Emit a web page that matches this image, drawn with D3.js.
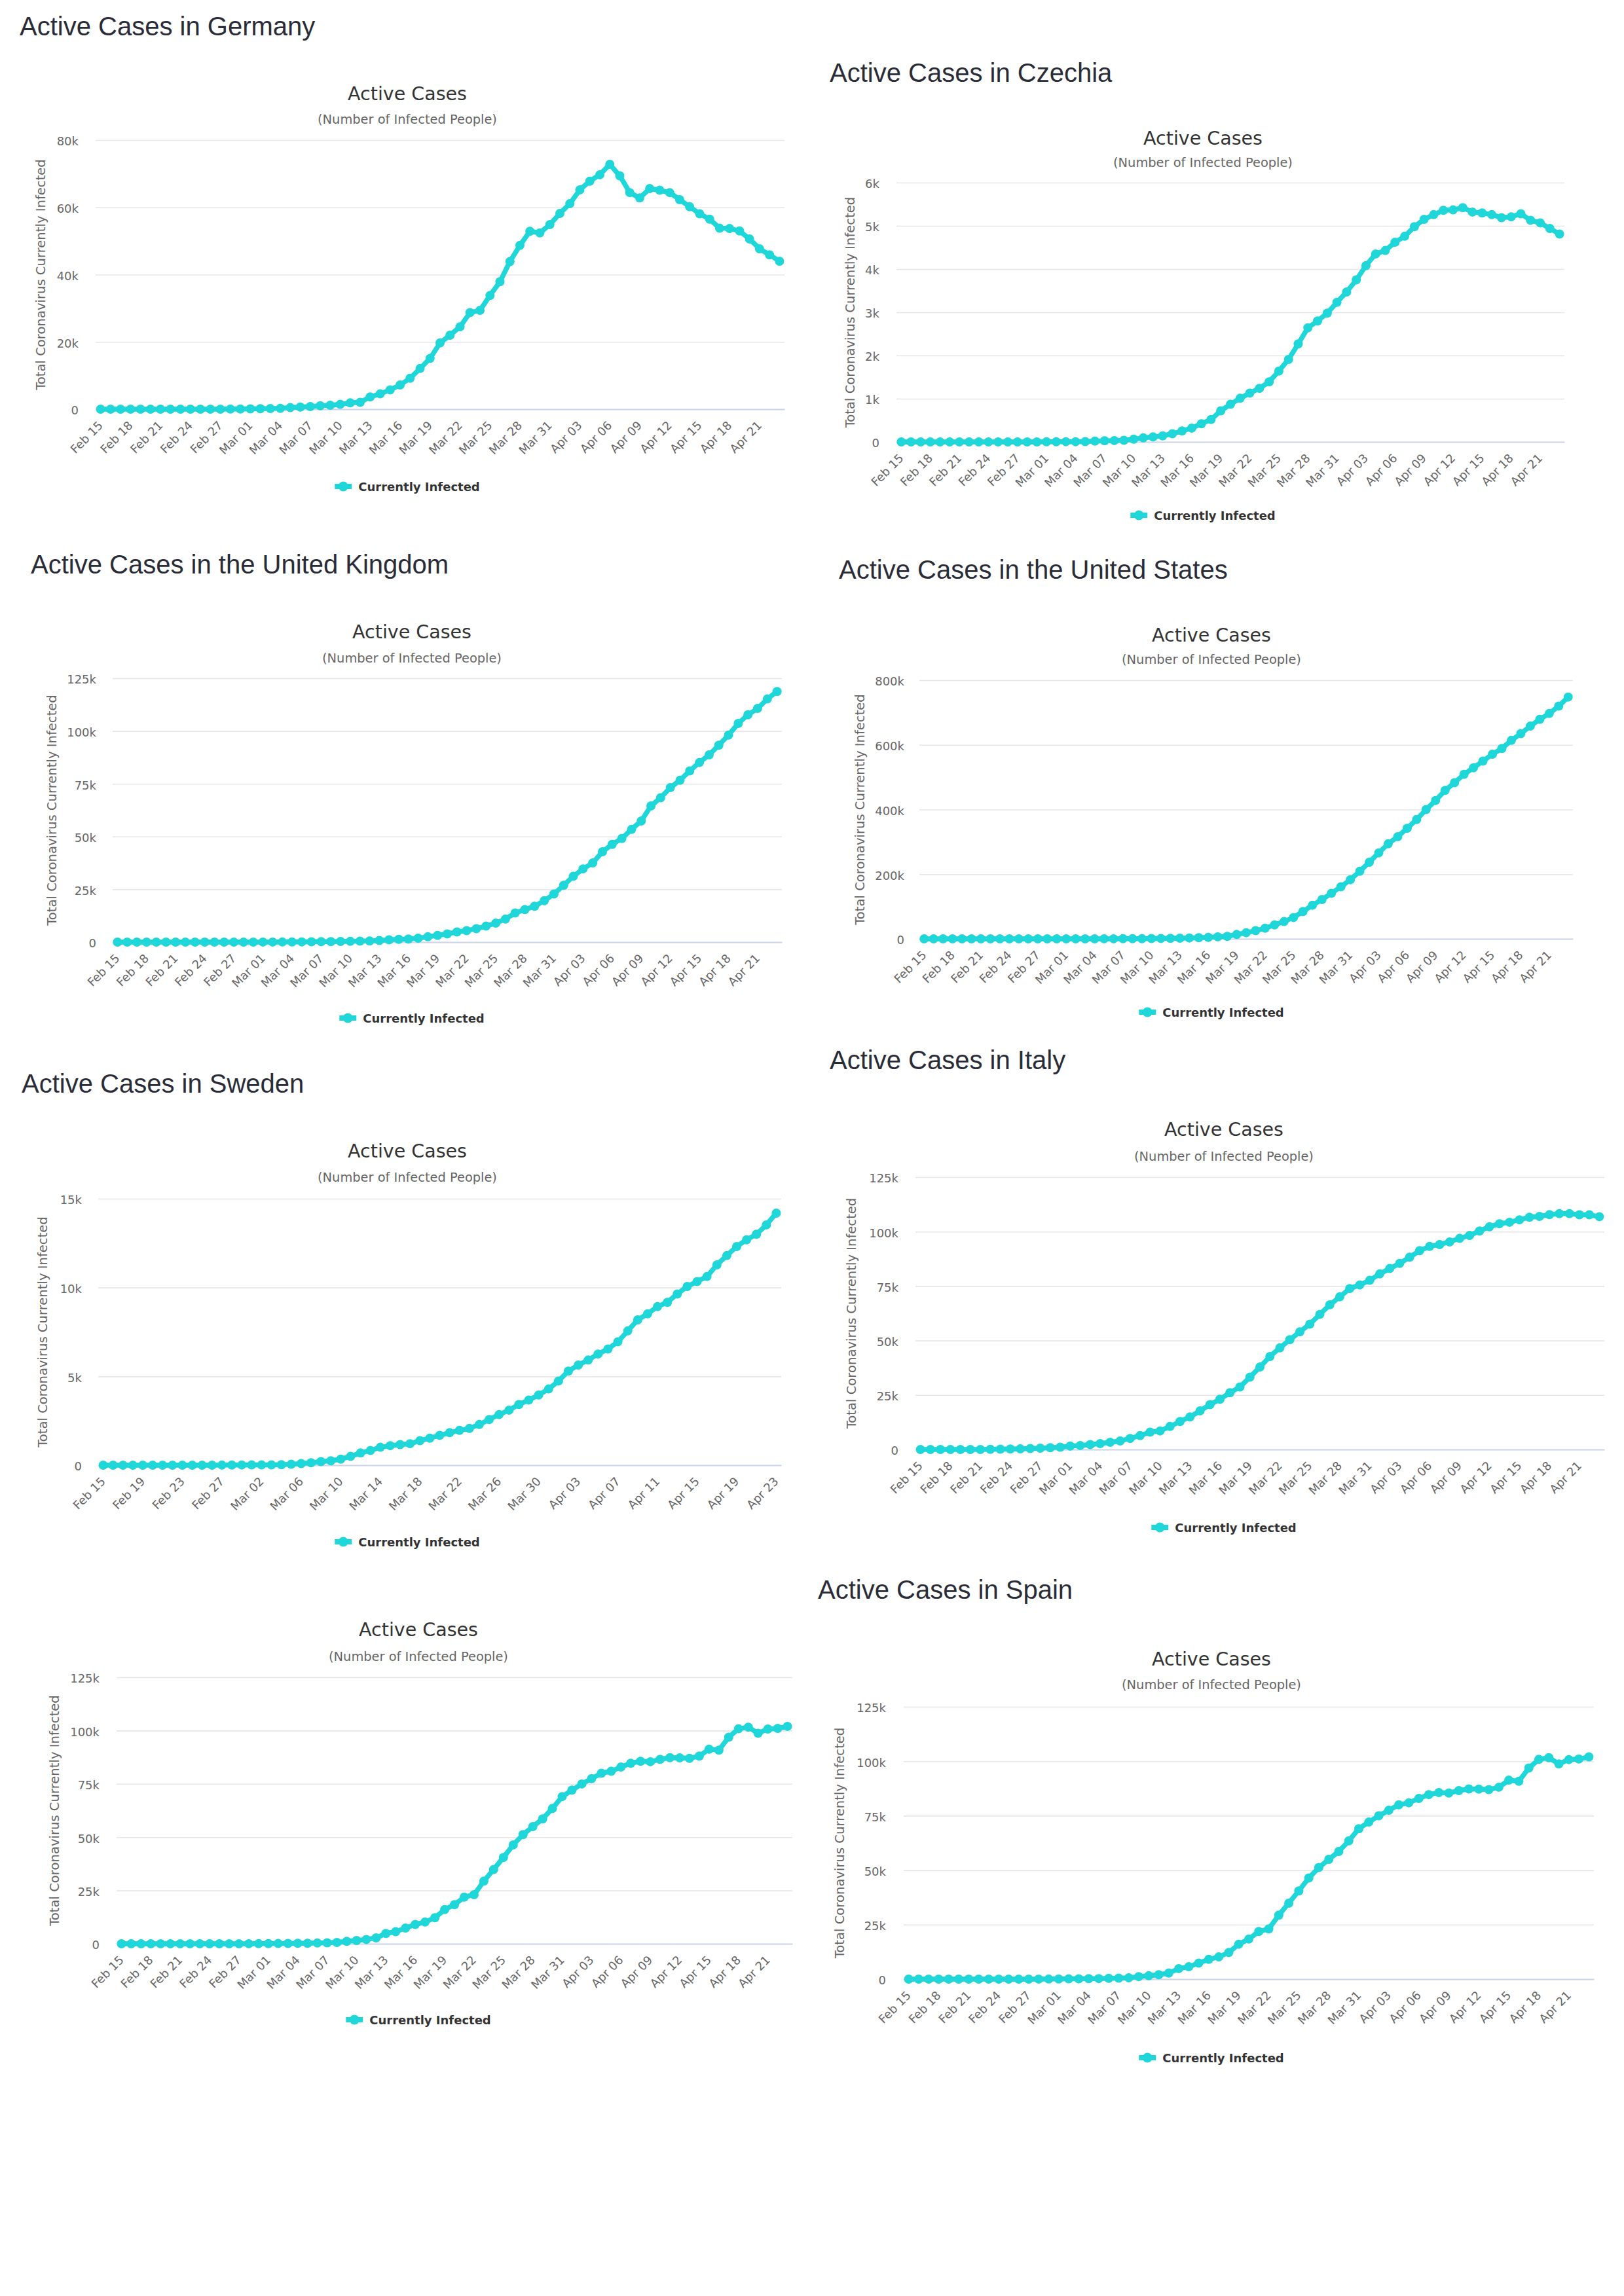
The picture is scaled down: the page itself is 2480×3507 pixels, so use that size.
<!DOCTYPE html>
<html>
<head>
<meta charset="utf-8">
<script src="https://cdn.jsdelivr.net/npm/d3@7"></script>
<style>
  body { margin: 0; background: #fff; }
  svg { display: block; }
</style>
</head>
<body>
<div id="page"></div>
<script>
/* DATA (values in thousands of active cases, one per day Feb 15 .. Apr 23 2020) */

const DAYS = d3.timeDay.range(new Date(2020, 1, 15), new Date(2020, 3, 24))
const CATEGORIES = DAYS.map(d3.timeFormat("%b %d"))

const TICKS_EVERY_3 = ["Feb 15", "Feb 18", "Feb 21", "Feb 24", "Feb 27", "Mar 01", "Mar 04", "Mar 07",
    "Mar 10", "Mar 13", "Mar 16", "Mar 19", "Mar 22", "Mar 25", "Mar 28", "Mar 31", "Apr 03",
    "Apr 06", "Apr 09", "Apr 12", "Apr 15", "Apr 18", "Apr 21"]
const TICKS_EVERY_4 = ["Feb 15", "Feb 19", "Feb 23", "Feb 27", "Mar 02", "Mar 06", "Mar 10", "Mar 14",
    "Mar 18", "Mar 22", "Mar 26", "Mar 30", "Apr 03", "Apr 07", "Apr 11", "Apr 15", "Apr 19", "Apr 23"]

const GERMANY = [0.014, 0.014, 0.014, 0.012, 0.010, 0.010, 0.010, 0.002, 0.002, 0.002,
    0.002, 0.005, 0.012, 0.034, 0.063, 0.11, 0.14, 0.18, 0.25, 0.47,
    0.62, 0.78, 1.02, 1.16, 1.44, 1.88, 2.05, 3.65, 4.55, 5.75,
    7.2, 9.2, 12.1, 15.1, 19.7, 22.0, 24.5, 28.7, 29.4, 33.8,
    37.9, 43.9, 48.7, 52.9, 52.4, 54.9, 58.2, 61.1, 65.2, 67.8,
    69.7, 72.8, 69.4, 64.4, 62.8, 65.6, 65.1, 64.4, 62.3, 60.2,
    58.1, 56.5, 53.8, 53.7, 53.0, 50.6, 47.7, 45.9, 44.0]

const CZECHIA = [0, 0, 0, 0, 0, 0, 0, 0, 0, 0,
    0, 0, 0, 0, 0, 0.003, 0.003, 0.005, 0.005, 0.008,
    0.019, 0.026, 0.032, 0.038, 0.063, 0.094, 0.116, 0.141, 0.189, 0.253,
    0.32, 0.42, 0.52, 0.72, 0.87, 1.01, 1.13, 1.24, 1.39, 1.64,
    1.91, 2.27, 2.64, 2.80, 2.98, 3.23, 3.47, 3.75, 4.08, 4.35,
    4.43, 4.62, 4.76, 4.98, 5.15, 5.26, 5.36, 5.37, 5.42, 5.32,
    5.30, 5.26, 5.19, 5.21, 5.28, 5.13, 5.07, 4.94, 4.81]

const UNITED_KINGDOM = [0.001, 0.001, 0.001, 0.001, 0.001, 0.001, 0.001, 0.001, 0.005, 0.005,
    0.005, 0.005, 0.007, 0.012, 0.015, 0.028, 0.032, 0.043, 0.077, 0.107,
    0.155, 0.196, 0.255, 0.294, 0.351, 0.431, 0.563, 0.771, 1.10, 1.33,
    1.48, 1.86, 2.53, 3.17, 3.87, 4.80, 5.45, 6.35, 7.57, 9.0,
    10.9, 13.8, 15.4, 17.0, 19.6, 22.8, 26.9, 31.2, 34.7, 37.5,
    42.8, 46.3, 49.1, 53.4, 57.4, 64.5, 68.4, 73.2, 76.7, 81.1,
    85.1, 88.7, 93.3, 98.1, 103.6, 107.7, 110.7, 115.2, 118.7]

const UNITED_STATES = [0.012, 0.012, 0.012, 0.012, 0.012, 0.012, 0.030, 0.030, 0.030, 0.045,
    0.045, 0.050, 0.052, 0.055, 0.061, 0.074, 0.090, 0.108, 0.140, 0.205,
    0.250, 0.390, 0.505, 0.570, 0.945, 1.26, 1.64, 2.15, 2.69, 3.45,
    4.56, 6.32, 7.66, 13.5, 18.9, 25.2, 32.9, 43.0, 53.5, 66.0,
    84.5, 104.0, 121.5, 141.0, 161.0, 183.0, 209.0, 237.0, 266.0, 294.0,
    316.0, 342.0, 369.0, 400.0, 428.0, 459.0, 483.0, 509.0, 529.0, 550.0,
    571.0, 589.0, 614.0, 635.0, 658.0, 679.0, 697.0, 720.0, 748.0]

const SWEDEN = [0.001, 0.001, 0.001, 0.001, 0.001, 0.001, 0.001, 0.001, 0.001, 0.001,
    0.001, 0.001, 0.006, 0.011, 0.013, 0.014, 0.014, 0.014, 0.029, 0.051,
    0.093, 0.136, 0.202, 0.247, 0.34, 0.50, 0.69, 0.83, 1.01, 1.10,
    1.16, 1.21, 1.38, 1.52, 1.68, 1.83, 1.96, 2.07, 2.29, 2.57,
    2.85, 3.10, 3.42, 3.67, 3.95, 4.29, 4.74, 5.30, 5.64, 5.92,
    6.26, 6.54, 6.95, 7.56, 8.18, 8.52, 8.93, 9.17, 9.64, 10.06,
    10.34, 10.62, 11.28, 11.80, 12.31, 12.69, 13.00, 13.53, 14.19]

const ITALY = [0.003, 0.003, 0.003, 0.003, 0.003, 0.003, 0.017, 0.076, 0.150, 0.221,
    0.311, 0.438, 0.593, 0.821, 1.049, 1.577, 1.835, 2.263, 2.706, 3.296,
    3.916, 5.061, 6.387, 7.985, 8.514, 10.59, 12.84, 14.96, 17.75, 20.60,
    23.07, 26.06, 28.71, 33.19, 37.86, 42.68, 46.64, 50.42, 54.03, 57.52,
    62.01, 66.41, 70.07, 73.88, 75.53, 77.64, 80.57, 83.05, 85.39, 88.27,
    91.25, 93.19, 94.07, 95.26, 96.88, 98.27, 100.27, 102.25, 103.62, 104.29,
    105.42, 106.61, 106.96, 107.77, 108.26, 108.24, 107.71, 107.70, 106.85]

const SPAIN = [0.002, 0.002, 0.002, 0.002, 0.002, 0.002, 0.002, 0.002, 0.002, 0.002,
    0.004, 0.011, 0.013, 0.030, 0.043, 0.082, 0.118, 0.163, 0.220, 0.248,
    0.360, 0.468, 0.627, 1.161, 1.546, 2.030, 2.766, 4.838, 5.679, 7.362,
    9.070, 10.19, 12.21, 16.03, 18.37, 21.87, 23.05, 29.37, 34.87, 40.50,
    46.41, 51.22, 54.97, 58.60, 63.46, 69.05, 72.08, 74.97, 77.49, 80.00,
    80.93, 82.90, 84.69, 85.61, 85.41, 86.52, 87.31, 87.23, 86.98, 88.08,
    91.31, 90.84, 96.89, 100.86, 101.62, 98.77, 100.76, 101.02, 102.0]

const Y_TICKS_80K = [0, 20, 40, 60, 80]
const Y_TICKS_6K = [0, 1, 2, 3, 4, 5, 6]
const Y_TICKS_125K = [0, 25, 50, 75, 100, 125]
const Y_TICKS_800K = [0, 200, 400, 600, 800]
const Y_TICKS_15K = [0, 5, 10, 15]

/* LAYOUT */

const PANELS = [
    { heading: "Active Cases in Germany", hx: 30, hy: 54, data: GERMANY, yTicks: Y_TICKS_80K, xTicks: TICKS_EVERY_3,
      cx: 622, ty: 153, sy: 189, left: 146, right: 1198, top: 214, bottom: 625, yLabelX: 120, axisTitleX: 62, legendY: 743 },
    { heading: "Active Cases in Czechia", hx: 1267, hy: 125, data: CZECHIA, yTicks: Y_TICKS_6K, xTicks: TICKS_EVERY_3,
      cx: 1837, ty: 221, sy: 255, left: 1369, right: 2389, top: 279, bottom: 675, yLabelX: 1343, axisTitleX: 1298, legendY: 787 },
    { heading: "Active Cases in the United Kingdom", hx: 47, hy: 876, data: UNITED_KINGDOM, yTicks: Y_TICKS_125K, xTicks: TICKS_EVERY_3,
      cx: 629, ty: 975, sy: 1012, left: 172, right: 1194, top: 1036, bottom: 1439, yLabelX: 147, axisTitleX: 79, legendY: 1555 },
    { heading: "Active Cases in the United States", hx: 1281, hy: 884, data: UNITED_STATES, yTicks: Y_TICKS_800K, xTicks: TICKS_EVERY_3,
      cx: 1850, ty: 980, sy: 1014, left: 1404, right: 2402, top: 1039, bottom: 1434, yLabelX: 1381, axisTitleX: 1313, legendY: 1546 },
    { heading: "Active Cases in Sweden", hx: 33, hy: 1669, data: SWEDEN, yTicks: Y_TICKS_15K, xTicks: TICKS_EVERY_4,
      cx: 622, ty: 1768, sy: 1805, left: 150, right: 1193, top: 1831, bottom: 2238, yLabelX: 125, axisTitleX: 65, legendY: 2355 },
    { heading: "Active Cases in Italy", hx: 1267, hy: 1633, data: ITALY, yTicks: Y_TICKS_125K, xTicks: TICKS_EVERY_3,
      cx: 1869, ty: 1735, sy: 1773, left: 1398, right: 2450, top: 1798, bottom: 2214, yLabelX: 1372, axisTitleX: 1300, legendY: 2333 },
    { heading: null, data: SPAIN, yTicks: Y_TICKS_125K, xTicks: TICKS_EVERY_3,
      cx: 639, ty: 2499, sy: 2537, left: 178, right: 1210, top: 2562, bottom: 2969, yLabelX: 152, axisTitleX: 83, legendY: 3085 },
    { heading: "Active Cases in Spain", hx: 1249, hy: 2442, data: SPAIN, yTicks: Y_TICKS_125K, xTicks: TICKS_EVERY_3,
      cx: 1850, ty: 2544, sy: 2580, left: 1380, right: 2434, top: 2607, bottom: 3023, yLabelX: 1353, axisTitleX: 1282, legendY: 3143 },
]

const COLOR = "#1fd6d9"
const CHART_FONT = "'DejaVu Sans', Verdana, sans-serif"
const HEAD_FONT = "'Liberation Sans', Arial, Helvetica, sans-serif"

const svg = d3.select("#page").append("svg")
    .attr("width", 2480)
    .attr("height", 3507)

svg.append("rect").attr("width", 2480).attr("height", 3507).attr("fill", "#fff")

function kFormat(v) {
    return v === 0 ? "0" : v + "k"
}

function drawPanel(p) {
    const g = svg.append("g")

    if (p.heading) {
        g.append("text")
            .attr("x", p.hx).attr("y", p.hy)
            .style("font-family", HEAD_FONT)
            .style("font-size", "40px")
            .style("fill", "#2a2c37")
            .text(p.heading)
    }

    g.append("text")
        .attr("x", p.cx).attr("y", p.ty)
        .attr("text-anchor", "middle")
        .style("font-family", CHART_FONT)
        .style("font-size", "28.5px")
        .style("fill", "#333333")
        .text("Active Cases")

    g.append("text")
        .attr("x", p.cx).attr("y", p.sy)
        .attr("text-anchor", "middle")
        .style("font-family", CHART_FONT)
        .style("font-size", "19.4px")
        .style("fill", "#666666")
        .text("(Number of Infected People)")

    const x = d3.scalePoint()
        .domain(CATEGORIES)
        .range([p.left, p.right])
        .padding(0.5)

    const y = d3.scaleLinear()
        .domain([0, d3.max(p.yTicks)])
        .range([p.bottom, p.top])

    // grid + y labels
    const yAxis = g.append("g")
        .attr("transform", "translate(" + p.left + ",0)")
        .call(d3.axisLeft(y)
            .tickValues(p.yTicks)
            .tickFormat(kFormat)
            .tickSize(-(p.right - p.left))
            .tickPadding(p.left - p.yLabelX))
    yAxis.select(".domain").remove()
    yAxis.selectAll(".tick line").attr("stroke", "#e6e6e6").attr("stroke-width", 1.6)
    yAxis.selectAll(".tick text")
        .attr("dy", "0.44em")
        .style("font-family", CHART_FONT)
        .style("font-size", "18px")
        .style("fill", "#666666")

    // x axis
    const xAxis = g.append("g")
        .attr("transform", "translate(0," + p.bottom + ")")
        .call(d3.axisBottom(x)
            .tickValues(p.xTicks)
            .tickSize(0)
            .tickSizeOuter(0))
    xAxis.select(".domain").attr("stroke", "#ccd6eb").attr("stroke-width", 1.8)
    xAxis.selectAll(".tick text")
        .attr("y", null)
        .attr("dy", null)
        .attr("text-anchor", "end")
        .attr("transform", "translate(4,26) rotate(-45)")
        .style("font-family", CHART_FONT)
        .style("font-size", "18px")
        .style("fill", "#666666")

    // axis title
    g.append("text")
        .attr("transform", "translate(" + p.axisTitleX + "," + (p.top + p.bottom) / 2 + ") rotate(-90)")
        .attr("text-anchor", "middle")
        .attr("dominant-baseline", "central")
        .style("font-family", CHART_FONT)
        .style("font-size", "19.6px")
        .style("fill", "#666666")
        .text("Total Coronavirus Currently Infected")

    // series
    const line = d3.line()
        .x((d, i) => x(CATEGORIES[i]))
        .y(d => y(d))

    g.append("path")
        .datum(p.data)
        .attr("d", line)
        .attr("fill", "none")
        .attr("stroke", COLOR)
        .attr("stroke-width", 7.5)
        .attr("stroke-linejoin", "round")
        .attr("stroke-linecap", "round")

    g.selectAll(".dot")
        .data(p.data)
        .enter().append("circle")
        .attr("cx", (d, i) => x(CATEGORIES[i]))
        .attr("cy", d => y(d))
        .attr("r", 7)
        .attr("fill", COLOR)

    // legend
    const leg = g.append("g")
    const label = leg.append("text")
        .attr("x", 36).attr("y", 0)
        .attr("dominant-baseline", "central")
        .style("font-family", CHART_FONT)
        .style("font-size", "18px")
        .style("font-weight", "bold")
        .style("fill", "#333333")
        .text("Currently Infected")
    const w = 36 + label.node().getComputedTextLength()
    leg.append("line")
        .attr("x1", 0).attr("x2", 26).attr("y1", 0).attr("y2", 0)
        .attr("stroke", COLOR).attr("stroke-width", 8)
    leg.append("circle")
        .attr("cx", 13).attr("cy", 0).attr("r", 7.5)
        .attr("fill", COLOR)
    leg.attr("transform", "translate(" + (p.cx - w / 2) + "," + p.legendY + ")")
}

PANELS.forEach(drawPanel)
</script>
</body>
</html>
